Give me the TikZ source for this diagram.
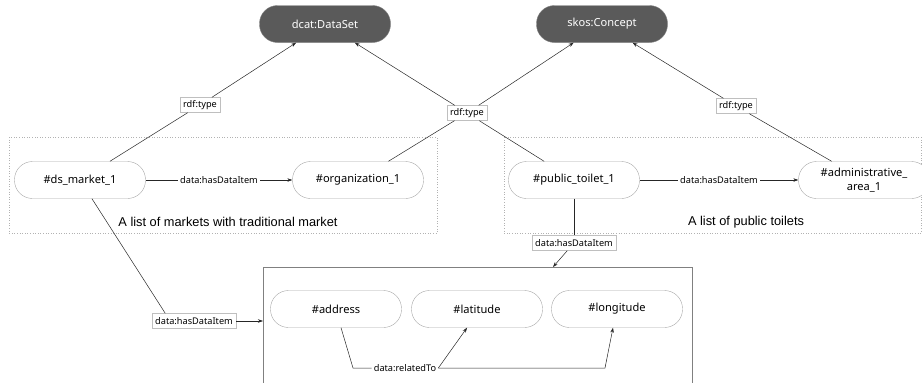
\documentclass[tikz,border=0pt]{standalone}
\usepackage{fontspec}
\setmainfont{Noto Sans}
\newfontfamily\capfont{Liberation Sans}
\usepackage{tikz}
\usetikzlibrary{arrows.meta}

\definecolor{classfill}{HTML}{5A5A5A}
\definecolor{pillline}{HTML}{A8A8A8}

\tikzset{
  pill/.style={draw=pillline, fill=white, rounded corners=18pt, minimum width=131pt,
    minimum height=37pt, inner sep=0pt, align=center, font=\fontsize{11.1}{13.5}\selectfont},
  classpill/.style={pill, fill=classfill, draw=gray, text=white},
  edgebox/.style={draw=gray!50, fill=white, inner xsep=3pt, inner ysep=0pt,
    minimum height=15pt, font=\fontsize{9.2}{10}\selectfont},
  edgetext/.style={fill=white, inner sep=2pt, font=\fontsize{9.2}{10}\selectfont},
  link/.style={draw=black!85, line width=0.5pt},
  caption/.style={font=\capfont\fontsize{12.8}{14}\selectfont},
}

\begin{document}
\begin{tikzpicture}[x=1pt, y=-1pt, >={Stealth[length=5pt, width=3.5pt]}]

\useasboundingbox (0,0) rectangle (922,383);

% Grupos de datos (recuadros punteados)
\draw[gray!60, dotted, line width=0.6pt] (9,137) rectangle (437,233);
\draw[gray!60, dotted, line width=0.6pt] (504,137) rectangle (921,233);

% Recuadro de elementos
\node[draw=gray, line width=0.6pt, minimum width=429pt, minimum height=140pt,
  inner sep=0pt, anchor=north west] (itembox) at (263,267) {};

% Clases
\node[classpill] (dataset) at (325,24) {dcat:DataSet};
\node[classpill] (concept) at (602,24) {skos:Concept};

% Instancias
\node[pill] (market) at (80,180) {\#ds\_market\_1};
\node[pill] (org) at (358,180) {\#organization\_1};
\node[pill] (toilet) at (574,180) {\#public\_toilet\_1};
\node[pill] (area) at (864,180) {\#administrative\_\\area\_1};

\node[pill] (address) at (336,309) {\#address};
\node[pill] (lat) at (477,309) {\#latitude};
\node[pill] (lon) at (617,309) {\#longitude};

% Etiquetas de las aristas
\node[edgebox] (typeA) at (200,105) {rdf:type};
\node[edgebox] (typeB) at (467,113) {rdf:type};
\node[edgebox] (typeC) at (736,106) {rdf:type};
\node[edgebox] (itemA) at (194,321) {data:hasDataItem};
\node[edgebox] (itemB) at (574,243) {data:hasDataItem};

% Leyendas
\node[caption] (capA) at (228,222) {A list of markets with traditional market};
\node[caption] (capB) at (746,222) {A list of public toilets};

% rdf:type
\draw[link, ->] (market) -- (typeA) -- (dataset);
\draw[link, ->] (org) -- (typeB) -- (dataset);
\draw[link, ->] (toilet) -- (typeB) -- (concept);
\draw[link, ->] (area) -- (typeC) -- (concept);

% data:hasDataItem
\draw[link, ->] (market) -- node[edgetext] {data:hasDataItem} (org);
\draw[link, ->] (toilet) -- node[edgetext] {data:hasDataItem} (area);

\coordinate (boxtop) at (553,267);
\draw[link] (market) -- (itemA.165);
\draw[link, ->] (itemA.east) -- (itemA.east -| itembox.west);
\draw[link] (toilet) -- (itemB);
\draw[link, ->] (itemB) -- (boxtop);

% data:relatedTo
\node[edgetext] (rel) at (405,368) {data:relatedTo};
\coordinate (relA) at (353,368);
\coordinate (relB) at (605,368);
\draw[link] (address.-75) -- (relA) -- (rel.west);
\draw[link, ->] (rel.east) -- (lat.-118);
\draw[link, ->] (rel.east) -- (relB) -- (lon.-102);

\end{tikzpicture}
\end{document}
